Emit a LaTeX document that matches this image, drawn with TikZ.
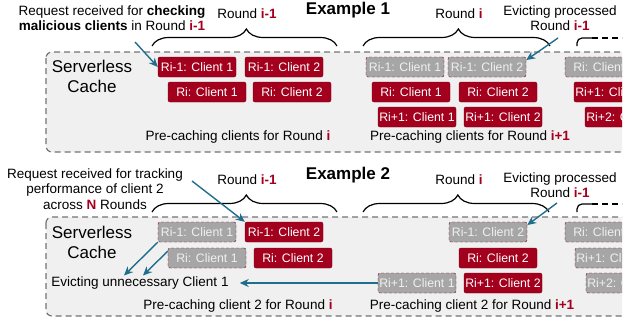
\documentclass[tikz,border=0pt]{standalone}
\usepackage{fontspec}
\setmainfont{Liberation Sans}
\usetikzlibrary{arrows.meta,decorations.pathreplacing,calc}
\definecolor{roundred}{HTML}{A2001D}
\definecolor{evictgray}{HTML}{A6A6A6}
\definecolor{cachebg}{HTML}{F0F0F0}
\definecolor{arrowblue}{HTML}{1F6E8C}
\newcommand{\rnd}[1]{\textcolor{roundred}{\textbf{#1}}}

\begin{document}
\begin{tikzpicture}[x=1pt,y=-1pt,
		kept/.style={draw=roundred!75!black, fill=roundred, text=white, rounded corners=2pt,
			minimum width=78pt, minimum height=20pt, inner sep=0pt, font=\fontsize{12.3}{14}\selectfont},
		evicted/.style={kept, fill=evictgray, draw=roundred!80!black, densely dashed, text=white!94!black},
		cache/.style={draw=black!55, dash pattern=on 6pt off 4pt, line width=1.2pt, fill=cachebg, rounded corners=6pt},
		note/.style={font=\fontsize{13.5}{15.5}\selectfont, align=center, inner sep=1pt},
		title/.style={font=\fontsize{17}{20}\selectfont\bfseries, inner sep=0pt},
		pointer/.style={draw=arrowblue, line width=1.4pt, -{Stealth[length=9pt,width=8pt]}},
		roundbrace/.style={decorate, decoration={brace, amplitude=17pt, aspect=0.51}, line width=1.2pt}
	]
	\useasboundingbox (0,0) rectangle (635,324);
	\begin{scope}
	\clip (0,0) rectangle (622,324);

	% Example 1
	\draw[cache] (46,52) rectangle (680,152);
	\node[title] (ex1) at (348,10) {Example 1};
	\node[note] (req1) at (112,18) {Request received for \textbf{checking}\\ \textbf{malicious clients} in Round \rnd{i-1}};
	\node[note] (evp1) at (560,18) {Evicting processed\\ Round \rnd{i-1}};
	\node[note] (r1a) at (247,14) {Round \rnd{i-1}};
	\node[note] (r1b) at (459,14) {Round \rnd{i}};
	\draw[roundbrace] (152,46) -- (337,46);
	\draw[roundbrace] (363,46) -- (550,46);
	\draw[line width=1.2pt, rounded corners=5pt] (577,46) |- (592,38);
	\draw[line width=1.2pt, dash pattern=on 6pt off 4pt] (592,38) -- (640,38);
	\node[font=\fontsize{17}{20}\selectfont, align=center] (sc1) at (92,76) {Serverless\\ Cache};

	\node[kept] (a11) at (197,67) {Ri-1: Client 1};
	\node[kept] (a12) at (284,67) {Ri-1: Client 2};
	\node[kept] (a21) at (207,92) {Ri: Client 1};
	\node[kept] (a22) at (292,92) {Ri: Client 2};
	\node[evicted] (b11) at (405,67) {Ri-1: Client 1};
	\node[evicted] (b12) at (487,67) {Ri-1: Client 2};
	\node[kept] (b21) at (411,92) {Ri: Client 1};
	\node[kept] (b22) at (498,92) {Ri: Client 2};
	\node[kept] (b31) at (417,117) {Ri+1: Client 1};
	\node[kept] (b32) at (503,117) {Ri+1: Client 2};
	\node[evicted] (c11) at (604,67) {Ri: Client 1};
	\node[kept] (c21) at (613,92) {Ri+1: Client 1};
	\node[kept] (c31) at (624,117) {Ri+2: Client 1};

	\node[note] (pc1a) at (238,137) {Pre-caching clients for Round \rnd{i}};
	\node[note] (pc1b) at (470,137) {Pre-caching clients for Round \rnd{i+1}};

	\coordinate (q1) at (135,42);
	\coordinate (q2) at (558,38);
	\draw[pointer] (q1) -- (a11.west);
	\draw[pointer] (q2) -- (b12.10);

	% Example 2
	\draw[cache] (46,217) rectangle (680,316);
	\node[title] (ex2) at (348,175) {Example 2};
	\node[note] (req2) at (95,189) {Request received for tracking\\ performance of client 2\\ across \rnd{N} Rounds};
	\node[note] (evp2) at (560,185) {Evicting processed\\ Round \rnd{i-1}};
	\node[note] (r2a) at (247,180) {Round \rnd{i-1}};
	\node[note] (r2b) at (459,180) {Round \rnd{i}};
	\draw[roundbrace] (152,212) -- (337,212);
	\draw[roundbrace] (363,212) -- (549,212);
	\draw[line width=1.2pt, rounded corners=5pt] (577,212) |- (592,204);
	\draw[line width=1.2pt, dash pattern=on 6pt off 4pt] (592,204) -- (640,204);
	\node[font=\fontsize{17}{20}\selectfont, align=center] (sc2) at (92,242) {Serverless\\ Cache};

	\node[evicted] (d11) at (197,232) {Ri-1: Client 1};
	\node[kept] (d12) at (284,232) {Ri-1: Client 2};
	\node[evicted] (d21) at (207,258) {Ri: Client 1};
	\node[kept] (d22) at (293,258) {Ri: Client 2};
	\node[evicted] (e12) at (488,232) {Ri-1: Client 2};
	\node[kept] (e22) at (498,258) {Ri: Client 2};
	\node[evicted] (e31) at (417,283) {Ri+1: Client 1};
	\node[kept] (e32) at (503,283) {Ri+1: Client 2};
	\node[evicted] (f11) at (604,232) {Ri: Client 1};
	\node[evicted] (f21) at (614,258) {Ri+1: Client 1};
	\node[evicted] (f31) at (625,283) {Ri+2: Client 1};

	\node[note] (ev) at (140,283) {Evicting unnecessary Client 1};
	\node[note] (pc2a) at (238,306) {Pre-caching client 2 for Round \rnd{i}};
	\node[note] (pc2b) at (472,306) {Pre-caching client 2 for Round \rnd{i+1}};

	\coordinate (q3) at (192,181);
	\coordinate (q4) at (557,203);
	\draw[pointer] (q3) -- (d12.north west);
	\draw[pointer] (d11.south west) -- ($(ev.north)+(-16,0)$);
	\draw[pointer] (d21.170) -- ($(ev.north)+(3,0)$);
	\draw[pointer] (e31.west) -- ([xshift=10pt]ev.east);
	\draw[pointer] (q4) -- (e12.10);
	\end{scope}
\end{tikzpicture}
\end{document}
